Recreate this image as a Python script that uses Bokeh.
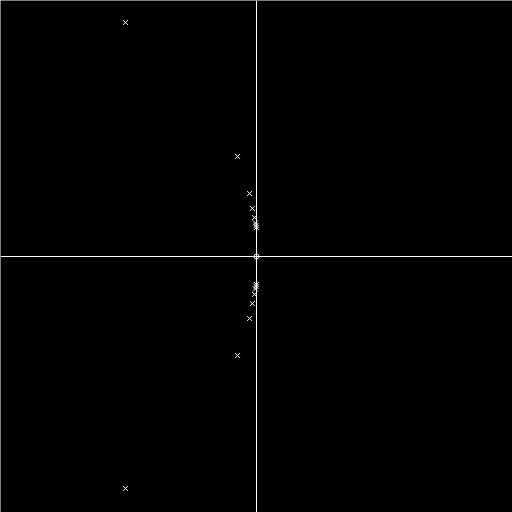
from bokeh.plotting import figure
from bokeh.models import Range1d, Span
from bokeh.embed import file_html
from bokeh.resources import INLINE

# poles (real, imag) — conjugate pairs
pole_re = [-0.512, -0.074, -0.027, -0.016, -0.008, -0.004, -0.002, -0.001,
           -0.512, -0.074, -0.027, -0.016, -0.008, -0.004, -0.002, -0.001]
pole_im = [0.914, 0.391, 0.246, 0.188, 0.152, 0.131, 0.121, 0.113,
           -0.906, -0.387, -0.242, -0.184, -0.148, -0.127, -0.117, -0.109]
# zeros
zero_re = [0.0]
zero_im = [0.0]

p = figure(width=512, height=512, output_backend="svg", toolbar_location=None,
           x_range=Range1d(-1, 1), y_range=Range1d(-1, 1),
           min_border=0, background_fill_color="black", border_fill_color="black",
           outline_line_color=None)
p.axis.visible = False
p.grid.visible = False

p.add_layout(Span(location=0, dimension="width", line_color="white", line_width=1))
p.add_layout(Span(location=0, dimension="height", line_color="white", line_width=1))

p.scatter(pole_re, pole_im, marker="x", size=7, line_color="white", line_width=1)
p.scatter(zero_re, zero_im, marker="circle", size=5, fill_color=None,
          line_color="white", line_width=1)

open("out.html", "w").write(file_html(p, INLINE))
